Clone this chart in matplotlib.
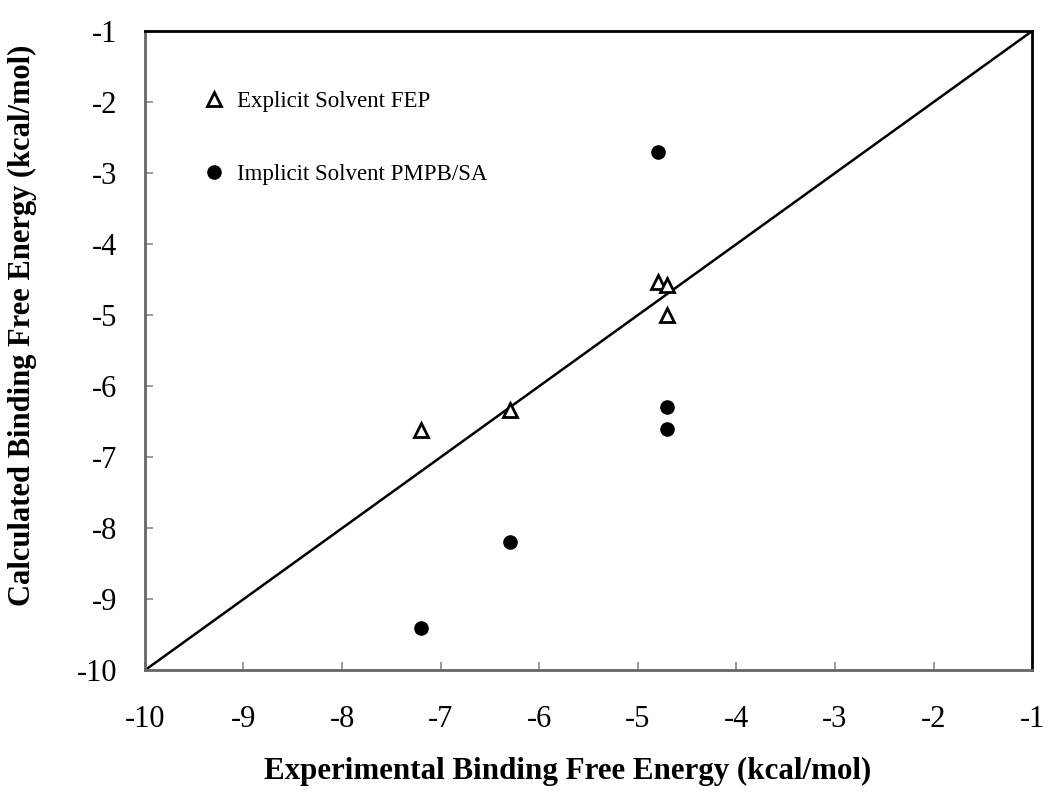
import matplotlib.pyplot as plt

plt.rcParams['font.family'] = ['Liberation Serif', 'DejaVu Serif']
plt.rcParams['axes.unicode_minus'] = False

# explicit solvent FEP (triangles)
fep_exp = [-4.8, -4.7, -4.7, -6.3, -7.2]
fep_calc = [-4.53, -4.58, -5.0, -6.34, -6.62]
# implicit solvent PMPB/SA (circles)
pb_exp = [-7.2, -6.3, -4.7, -4.7, -4.8]
pb_calc = [-9.4, -8.2, -6.3, -6.6, -2.7]
ticks = [-10, -9, -8, -7, -6, -5, -4, -3, -2, -1]

fig = plt.figure(figsize=(10.5, 7.96), dpi=100)
ax = fig.add_axes([0.138, 0.158, 0.845, 0.803])

ax.plot([-10, -1], [-10, -1], color='black', lw=1.8, zorder=1)
ax.plot(fep_exp, fep_calc, ls='none', marker='^', ms=10, mfc='white',
        mec='black', mew=2, label='Explicit Solvent FEP', zorder=3)
ax.plot(pb_exp, pb_calc, ls='none', marker='o', ms=9.5, mfc='black',
        mec='black', label='Implicit Solvent PMPB/SA', zorder=3)

ax.set_xlim(-10, -1)
ax.set_ylim(-10, -1)
ax.set_xticks(ticks)
ax.set_yticks(ticks)
ax.tick_params(direction='in', length=6, width=1.2, color='#888888',
               labelsize=22)
ax.tick_params(axis='x', pad=25)
ax.tick_params(axis='y', pad=20)

for s in ['left', 'bottom']:
    ax.spines[s].set_color('#666666')
    ax.spines[s].set_linewidth(2)
for s in ['top', 'right']:
    ax.spines[s].set_color('black')
    ax.spines[s].set_linewidth(2)

ax.set_xlabel('Experimental Binding Free Energy (kcal/mol)', fontsize=22.3,
              fontweight='bold')
ax.set_ylabel('Calculated Binding Free Energy (kcal/mol)', fontsize=22,
              fontweight='bold')
ax.xaxis.set_label_coords(0.476, -0.136)
ax.yaxis.set_label_coords(-0.122, 0.54)

ax.legend(loc='upper left', bbox_to_anchor=(0.055, 0.921), frameon=False,
          fontsize=16.5, numpoints=1, handlelength=1, handletextpad=0.5,
          labelspacing=2.27, borderaxespad=0)

fig.savefig('out.png', dpi=100)
